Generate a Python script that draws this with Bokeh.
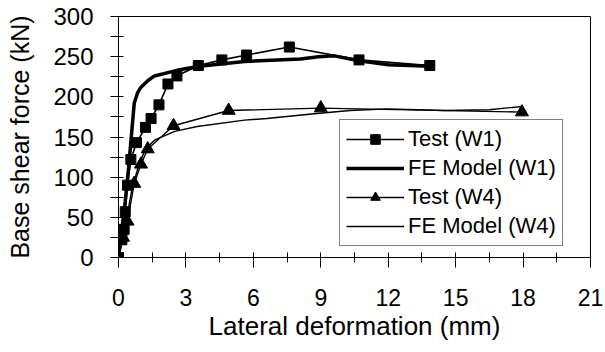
from bokeh.plotting import figure
from bokeh.models import Legend, LegendItem, Range1d, FixedTicker
from bokeh.embed import file_html
from bokeh.resources import INLINE

# Test (W1)
test_w1_x = [0, 0.15, 0.25, 0.3, 0.4, 0.55, 0.8, 1.2, 1.45, 1.8, 2.2, 2.6, 3.55, 4.6, 5.7, 7.6, 10.7, 13.85]
test_w1_y = [0, 22, 35, 57, 90, 122, 143, 162, 173, 190, 216, 226, 239, 246, 252, 262, 246, 239]

# FE Model (W1)
fe_w1_x = [0, 0.3, 0.45, 0.6, 0.7, 0.85, 1.0, 1.3, 1.6, 2.6, 3.6, 5.6, 8.1, 8.9, 9.6, 10.7, 12.0, 13.85]
fe_w1_y = [0, 70, 112, 160, 192, 205, 212, 220, 226, 233, 238, 244, 247, 250, 251, 245, 240, 238]

# Test (W4)
test_w4_x = [0, 0.2, 0.4, 0.7, 1.0, 1.3, 2.45, 4.9, 9.0, 17.95]
test_w4_y = [0, 25, 45, 92, 116, 135, 164, 183, 186, 181]

# FE Model (W4)
fe_w4_x = [0, 0.3, 0.6, 0.9, 1.2, 1.6, 2.5, 3.5, 5.6, 6.6, 8.7, 10.3, 12.0, 14.5, 16.5, 17.95]
fe_w4_y = [0, 40, 85, 115, 135, 146, 157, 163, 171, 173, 179, 183, 185, 183, 184, 188]

x_ticks = [0, 3, 6, 9, 12, 15, 18, 21]
x_minor = [1.5, 4.5, 7.5, 10.5, 13.5, 16.5, 19.5]
y_ticks = [0, 50, 100, 150, 200, 250, 300]
y_minor = [25, 75, 125, 175, 225, 275]

FONT = "Liberation Sans"

p = figure(width=605, height=352, output_backend="svg", toolbar_location=None,
           x_range=Range1d(0, 21), y_range=Range1d(0, 300),
           min_border_left=118, min_border_right=15, min_border_top=16, min_border_bottom=95)

p.background_fill_color = "white"
p.border_fill_color = "white"
p.outline_line_color = "black"
p.outline_line_width = 1
p.xgrid.visible = False
p.ygrid.visible = False

p.xaxis.ticker = FixedTicker(ticks=x_ticks, minor_ticks=x_minor)
p.yaxis.ticker = FixedTicker(ticks=y_ticks, minor_ticks=y_minor)

for ax in (p.xaxis[0], p.yaxis[0]):
    ax.axis_line_color = "black"
    ax.major_tick_line_color = "black"
    ax.minor_tick_line_color = "black"
    ax.major_label_text_font = FONT
    ax.major_label_text_color = "black"
    ax.axis_label_text_font = FONT
    ax.axis_label_text_font_style = "normal"
    ax.axis_label_text_color = "black"

p.xaxis.axis_label = "Lateral deformation (mm)"
p.yaxis.axis_label = "Base shear force (kN)"
p.xaxis.major_label_text_font_size = "23px"
p.yaxis.major_label_text_font_size = "24px"
p.xaxis.axis_label_text_font_size = "26px"
p.yaxis.axis_label_text_font_size = "25px"

p.xaxis.major_tick_in = 5
p.xaxis.major_tick_out = 10
p.xaxis.minor_tick_in = 5
p.xaxis.minor_tick_out = 5
p.xaxis.major_label_standoff = 21
p.xaxis.axis_label_standoff = 2

p.yaxis.major_tick_in = 5
p.yaxis.major_tick_out = 8
p.yaxis.minor_tick_in = 5
p.yaxis.minor_tick_out = 8
p.yaxis.major_label_standoff = 17
p.yaxis.axis_label_standoff = 16

r1l = p.line(test_w1_x, test_w1_y, line_color="black", line_width=1.6)
r1m = p.scatter(test_w1_x, test_w1_y, marker="square", size=10, color="black")
r2 = p.line(fe_w1_x, fe_w1_y, line_color="black", line_width=3.5)
r3l = p.line(test_w4_x, test_w4_y, line_color="black", line_width=1.4)
r3m = p.scatter(test_w4_x, test_w4_y, marker="triangle", size=13, color="black")
r4 = p.line(fe_w4_x, fe_w4_y, line_color="black", line_width=1.4)

legend = Legend(items=[
    LegendItem(label="Test (W1)", renderers=[r1l, r1m]),
    LegendItem(label="FE Model (W1)", renderers=[r2]),
    LegendItem(label="Test (W4)", renderers=[r3l, r3m]),
    LegendItem(label="FE Model (W4)", renderers=[r4]),
], location=(221, 11))
legend.label_text_font = FONT
legend.label_text_font_size = "22px"
legend.label_text_color = "black"
legend.border_line_color = "black"
legend.border_line_width = 1
legend.background_fill_color = "white"
legend.background_fill_alpha = 1
legend.padding = 6
legend.spacing = 3
legend.glyph_width = 58
legend.glyph_height = 24
legend.label_height = 24
legend.label_standoff = 4
legend.margin = 0
p.add_layout(legend, "center")

open("out.html", "w").write(file_html(p, INLINE))
